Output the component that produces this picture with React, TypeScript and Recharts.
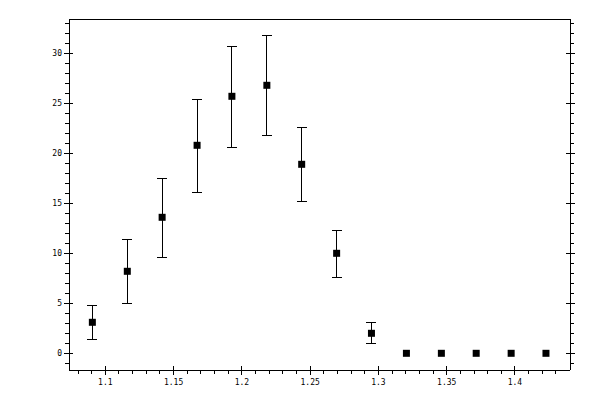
import React from 'react';
import { ScatterChart, Scatter, XAxis, YAxis, ErrorBar } from 'recharts';

// bin centres, counts and their error bounds
const xValues = [1.0905, 1.1161, 1.1416, 1.1672, 1.1927, 1.2183, 1.2438, 1.2694, 1.2949, 1.3205, 1.3461, 1.3716, 1.3972, 1.4227];
const yValues = [3.1, 8.2, 13.6, 20.8, 25.7, 26.8, 18.9, 10.0, 2.0, 0, 0, 0, 0, 0];
const yLow = [1.4, 5.0, 9.6, 16.1, 20.6, 21.8, 15.2, 7.6, 1.0, null, null, null, null, null];
const yHigh = [4.8, 11.4, 17.5, 25.4, 30.7, 31.8, 22.6, 12.3, 3.1, null, null, null, null, null];

const xTicks = [1.08, 1.09, 1.1, 1.11, 1.12, 1.13, 1.14, 1.15, 1.16, 1.17, 1.18, 1.19, 1.2, 1.21, 1.22, 1.23, 1.24, 1.25, 1.26, 1.27, 1.28, 1.29, 1.3, 1.31, 1.32, 1.33, 1.34, 1.35, 1.36, 1.37, 1.38, 1.39, 1.4, 1.41, 1.42, 1.43];
const xLabels = [1.1, 1.15, 1.2, 1.25, 1.3, 1.35, 1.4];
const yTicks = [-1, 0, 1, 2, 3, 4, 5, 6, 7, 8, 9, 10, 11, 12, 13, 14, 15, 16, 17, 18, 19, 20, 21, 22, 23, 24, 25, 26, 27, 28, 29, 30, 31, 32, 33];
const yLabels = [0, 5, 10, 15, 20, 25, 30];

const X_DOMAIN = [1.0734, 1.4403];
const Y_DOMAIN = [-1.67, 33.43];

const data = xValues.map((x, i) => ({
  x,
  y: yValues[i],
  err: yLow[i] == null || yHigh[i] == null ? undefined : [yValues[i] - (yLow[i] as number), (yHigh[i] as number) - yValues[i]],
}));

const FONT = '"DejaVu Sans Mono", monospace';
const MINOR = 4;
const MAJOR_OUT = 5;
const MAJOR_IN = 4;

type Side = 'bottom' | 'top' | 'left' | 'right';

const makeTick = (side: Side, labels: number[], showLabel: boolean) => (props: any) => {
  const { x, y, payload } = props;
  const v = payload.value;
  const major = labels.some((l) => Math.abs(l - v) < 1e-9);
  const out = major ? MAJOR_OUT : MINOR;
  const inn = major ? MAJOR_IN : 0;
  let line;
  let text = null;
  if (side === 'bottom') {
    line = <line x1={x} x2={x} y1={y - inn} y2={y + out} stroke="#000" />;
    if (major && showLabel)
      text = (
        <text x={x} y={y + 14.5} textAnchor="middle" fontSize={8} fontFamily={FONT} fill="#000">
          {String(v)}
        </text>
      );
  } else if (side === 'top') {
    line = <line x1={x} x2={x} y1={y + inn} y2={y - out} stroke="#000" />;
  } else if (side === 'left') {
    line = <line x1={x + inn} x2={x - out} y1={y} y2={y} stroke="#000" />;
    if (major && showLabel)
      text = (
        <text x={x - 7} y={y} dy="0.35em" textAnchor="end" fontSize={8} fontFamily={FONT} fill="#000">
          {String(v)}
        </text>
      );
  } else {
    line = <line x1={x - inn} x2={x + out} y1={y} y2={y} stroke="#000" />;
  }
  return (
    <g>
      {line}
      {text}
    </g>
  );
};

const Square = (props: any) => {
  const { cx, cy } = props;
  return <rect x={cx - 3.5} y={cy - 3.5} width={7} height={7} fill="#000" />;
};

export default function App() {
  return (
    <div style={{ position: 'absolute', left: 0, top: 0, width: 600, height: 400, background: '#fff' }}>
      <style>{'svg line, svg path { shape-rendering: crispEdges; }'}</style>
      <ScatterChart width={600} height={400} margin={{ top: 0, right: 0, bottom: 0, left: 0 }}>
        <XAxis
          dataKey="x"
          type="number"
          domain={X_DOMAIN}
          allowDataOverflow
          ticks={xTicks}
          interval={0}
          height={30}
          tickSize={0}
          tickMargin={0}
          tickLine={false}
          axisLine={{ stroke: '#000' }}
          tick={makeTick('bottom', xLabels, true)}
        />
        <XAxis
          xAxisId="top"
          orientation="top"
          type="number"
          domain={X_DOMAIN}
          allowDataOverflow
          ticks={xTicks}
          interval={0}
          height={19}
          tickSize={0}
          tickMargin={0}
          tickLine={false}
          axisLine={{ stroke: '#000' }}
          tick={makeTick('top', xLabels, false)}
        />
        <YAxis
          dataKey="y"
          type="number"
          domain={Y_DOMAIN}
          allowDataOverflow
          ticks={yTicks}
          interval={0}
          width={69}
          tickSize={0}
          tickMargin={0}
          tickLine={false}
          axisLine={{ stroke: '#000' }}
          tick={makeTick('left', yLabels, true)}
        />
        <YAxis
          yAxisId="right"
          orientation="right"
          type="number"
          domain={Y_DOMAIN}
          allowDataOverflow
          ticks={yTicks}
          interval={0}
          width={30}
          tickSize={0}
          tickMargin={0}
          tickLine={false}
          axisLine={{ stroke: '#000' }}
          tick={makeTick('right', yLabels, false)}
        />
        <Scatter data={data} shape={<Square />} isAnimationActive={false}>
          <ErrorBar dataKey="err" direction="y" width={5} stroke="#000" strokeWidth={1} />
        </Scatter>
      </ScatterChart>
    </div>
  );
}
